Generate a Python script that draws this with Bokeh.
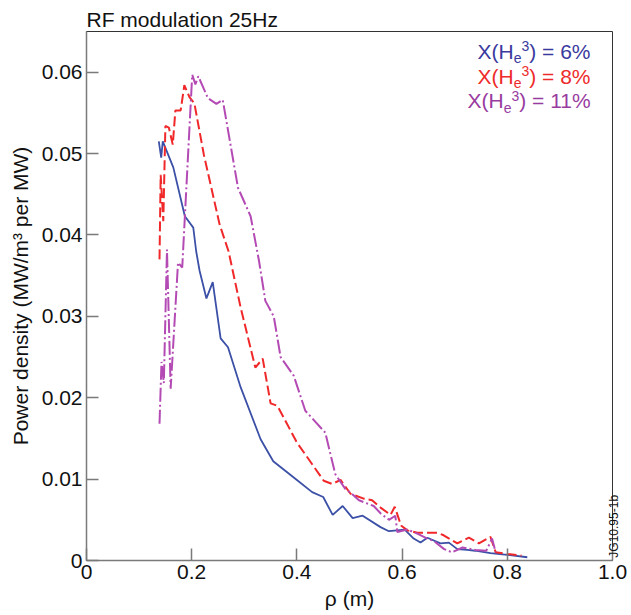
import math
from bokeh.plotting import figure
from bokeh.models import Range1d, FixedTicker, Label, LinearAxis
from bokeh.embed import file_html
from bokeh.resources import INLINE

# ---- data ----
rho_6 = [0.1375, 0.142, 0.145, 0.165, 0.187, 0.203, 0.2085, 0.215, 0.228, 0.240,
         0.255, 0.269, 0.293, 0.331, 0.355, 0.394, 0.429, 0.450, 0.468, 0.487,
         0.506, 0.525, 0.559, 0.575, 0.605, 0.622, 0.635, 0.648, 0.673, 0.689,
         0.705, 0.724, 0.739, 0.768, 0.800, 0.838]
pd_6 = [0.0515, 0.0495, 0.0515, 0.0483, 0.0423, 0.0409, 0.0380, 0.0356, 0.0322, 0.0342,
        0.0273, 0.0262, 0.0213, 0.0149, 0.0122, 0.0102, 0.0084, 0.0078, 0.0056, 0.0067,
        0.0052, 0.0055, 0.0041, 0.0036, 0.0038, 0.0027, 0.0022, 0.0028, 0.0021, 0.0022,
        0.0014, 0.0013, 0.0012, 0.0009, 0.0007, 0.0004]

rho_8 = [0.1388, 0.141, 0.146, 0.150, 0.1565, 0.164, 0.169, 0.179, 0.186, 0.196,
         0.205, 0.223, 0.253, 0.270, 0.293, 0.321, 0.335, 0.350, 0.363, 0.400,
         0.451, 0.467, 0.483, 0.502, 0.527, 0.543, 0.559, 0.578, 0.586, 0.598,
         0.610, 0.629, 0.667, 0.679, 0.705, 0.727, 0.746, 0.768, 0.778, 0.800, 0.827]
pd_8 = [0.0370, 0.0474, 0.0417, 0.0534, 0.0532, 0.0511, 0.0553, 0.0553, 0.0584, 0.0569,
        0.0562, 0.0499, 0.0413, 0.0380, 0.0311, 0.0237, 0.0248, 0.0193, 0.0190, 0.0145,
        0.0098, 0.0094, 0.0099, 0.0082, 0.0076, 0.0074, 0.0065, 0.0056, 0.0066, 0.0043,
        0.0037, 0.0034, 0.0034, 0.0031, 0.0021, 0.0028, 0.0021, 0.0029, 0.0010, 0.0008, 0.0006]

rho_11 = [0.1388, 0.1426, 0.147, 0.153, 0.160, 0.174, 0.182, 0.201, 0.207, 0.2125,
          0.231, 0.247, 0.259, 0.288, 0.312, 0.328, 0.340, 0.356, 0.369, 0.394,
          0.416, 0.454, 0.473, 0.492, 0.508, 0.518, 0.546, 0.559, 0.575, 0.587,
          0.591, 0.610, 0.629, 0.648, 0.660, 0.680, 0.695, 0.715, 0.740, 0.760,
          0.771, 0.778]
pd_11 = [0.0168, 0.0244, 0.0218, 0.0382, 0.0211, 0.0366, 0.0360, 0.0597, 0.0585, 0.0595,
         0.0568, 0.0561, 0.0566, 0.0458, 0.0423, 0.0368, 0.0319, 0.0300, 0.0250, 0.0227,
         0.0184, 0.0157, 0.0106, 0.0088, 0.0080, 0.0074, 0.0067, 0.0058, 0.0050, 0.0055,
         0.0035, 0.0038, 0.0033, 0.0027, 0.0024, 0.0014, 0.0010, 0.0016, 0.0013, 0.0012,
         0.0027, 0.0010]

# legend pieces: "X(H" + subscript "e" + superscript "3" + ") = N%"
legend_tails = [") = 6%", ") = 8%", ") = 11%"]

x_ticks = [0, 0.2, 0.4, 0.6, 0.8, 1.0]
x_tick_labels = ["0", "0.2", "0.4", "0.6", "0.8", "1.0"]
y_ticks = [0, 0.01, 0.02, 0.03, 0.04, 0.05, 0.06]
y_tick_labels = ["0", "0.01", "0.02", "0.03", "0.04", "0.05", "0.06"]

# ---- styling ----
FONT = "Liberation Sans"
FS = "21px"
AXC = "#7a7a7a"
C_BLUE, C_RED, C_PURP = "#3b50a6", "#f0282a", "#b44bb4"
T_BLUE, T_RED, T_PURP = "#3a3a9e", "#ee2b2b", "#983ca0"

FRAME_L, FRAME_T, FRAME_W, FRAME_H = 86, 31, 526, 529
Y_MAX = 0.065

p = figure(width=631, height=615, output_backend="svg", toolbar_location=None,
           x_range=Range1d(0, 1.0), y_range=Range1d(0, Y_MAX),
           min_border_left=86, min_border_right=19, min_border_top=31,
           min_border_bottom=55, title="RF modulation 25Hz")
p.title.text_font = FONT
p.title.text_font_size = FS
p.title.text_font_style = "normal"
p.title.align = "left"
p.title.standoff = 2
p.title.text_color = "#111111"

p.grid.visible = False
p.outline_line_color = "#333333"
p.outline_line_width = 1

for ax in (p.xaxis[0], p.yaxis[0]):
    ax.axis_line_color = AXC
    ax.axis_line_width = 1.5
    ax.major_tick_line_color = AXC
    ax.major_tick_line_width = 1.5
    ax.major_tick_in = 12
    ax.major_tick_out = 0
    ax.minor_tick_line_color = None
    ax.major_label_text_font = FONT
    ax.major_label_text_font_size = FS
    ax.major_label_text_color = "#111111"
    ax.axis_label_text_font = FONT
    ax.axis_label_text_font_size = FS
    ax.axis_label_text_font_style = "normal"
    ax.axis_label_text_color = "#111111"

p.xaxis.ticker = FixedTicker(ticks=x_ticks)
p.xaxis.major_label_overrides = dict(zip(x_ticks, x_tick_labels))
p.xaxis.axis_label = "\u03c1 (m)"
p.xaxis.major_label_standoff = 4
p.xaxis.axis_label_standoff = 5

p.yaxis.ticker = FixedTicker(ticks=y_ticks)
p.yaxis.major_label_overrides = dict(zip(y_ticks, y_tick_labels))
p.yaxis.axis_label = "Power density (MW/m\u00b3 per MW)"
p.yaxis.major_label_standoff = 4
p.yaxis.axis_label_standoff = 7

# right-hand side stamp "JG10.95-1b" as a rotated tick label of a bare right axis
stamp_pos = 0.00035
rax = LinearAxis(ticker=FixedTicker(ticks=[stamp_pos]),
                 major_label_overrides={stamp_pos: "JG10.95-1b"},
                 major_label_orientation=math.pi / 2,
                 axis_line_color=None, major_tick_line_color=None,
                 minor_tick_line_color=None, major_tick_in=0, major_tick_out=0,
                 major_label_standoff=2, major_label_text_font=FONT,
                 major_label_text_font_size="12px", major_label_text_color="#111111")
p.add_layout(rax, "right")

p.line(rho_6, pd_6, line_color=C_BLUE, line_width=1.8)
p.line(rho_8, pd_8, line_color=C_RED, line_width=2, line_dash="10 4")
p.line(rho_11, pd_11, line_color=C_PURP, line_width=2, line_dash="14 3 2 3")


def xd(px):
    return (px - FRAME_L) / FRAME_W


def yd(py):
    return (FRAME_T + FRAME_H - py) * Y_MAX / FRAME_H


head_w = 1.722 * 21   # width of "X(H" at 21px (Arial metrics)
small_w = 0.556 * 14  # width of "e"/"3" at 14px
row_left = [477, 477, 467]
row_mid = [50.8, 75.8, 100.0]
for tail, lx, my, col in zip(legend_tails, row_left, row_mid, [T_BLUE, T_RED, T_PURP]):
    common = dict(text_baseline="middle", text_align="left", text_font=FONT, text_color=col)
    p.add_layout(Label(x=xd(lx), y=yd(my), text="X(H", text_font_size=FS, **common))
    p.add_layout(Label(x=xd(lx + head_w), y=yd(my + 7), text="e", text_font_size="14px", **common))
    p.add_layout(Label(x=xd(lx + head_w + small_w), y=yd(my - 5), text="3", text_font_size="14px", **common))
    p.add_layout(Label(x=xd(lx + head_w + 2 * small_w), y=yd(my), text=tail, text_font_size=FS, **common))

open("out.html", "w").write(file_html(p, INLINE))
